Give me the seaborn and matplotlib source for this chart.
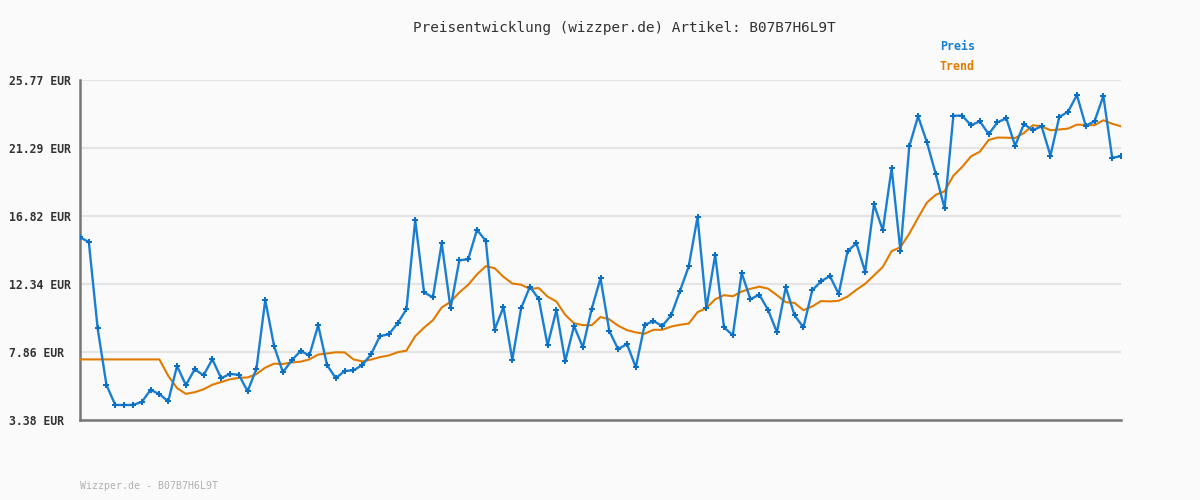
"""Preisentwicklung chart for article B07B7H6L9T (price and 10-point trend)."""

import matplotlib
matplotlib.use("Agg")
import matplotlib.pyplot as plt
import pandas as pd
import seaborn as sns

TITLE = "Preisentwicklung (wizzper.de) Artikel: B07B7H6L9T"
FOOTER = "Wizzper.de - B07B7H6L9T"

y_ticks = [3.38, 7.86, 12.34, 16.82, 21.29, 25.77]
y_tick_labels = ["3.38 EUR", "7.86 EUR", "12.34 EUR", "16.82 EUR", "21.29 EUR", "25.77 EUR"]

preis = [
    15.41, 15.10, 9.42, 5.68, 4.37, 4.37, 4.37, 4.57, 5.36, 5.09,
    4.61, 6.94, 5.68, 6.72, 6.32, 7.38, 6.13, 6.41, 6.36, 5.27,
    6.76, 11.28, 8.25, 6.52, 7.31, 7.92, 7.64, 9.62, 7.00, 6.13,
    6.61, 6.65, 7.00, 7.71, 8.91, 9.02, 9.75, 10.67, 16.53, 11.78,
    11.46, 15.02, 10.74, 13.90, 13.96, 15.91, 15.17, 9.33, 10.82, 7.35,
    10.74, 12.16, 11.35, 8.30, 10.62, 7.25, 9.57, 8.17, 10.69, 12.71,
    9.24, 8.04, 8.39, 6.85, 9.64, 9.90, 9.57, 10.27, 11.86, 13.50,
    16.75, 10.74, 14.25, 9.48, 8.96, 13.06, 11.33, 11.64, 10.62, 9.16,
    12.12, 10.27, 9.48, 11.92, 12.51, 12.86, 11.68, 14.49, 15.02, 13.15,
    17.58, 15.87, 19.96, 14.49, 21.40, 23.38, 21.67, 19.58, 17.32, 23.42,
    23.42, 22.79, 23.05, 22.21, 22.98, 23.25, 21.44, 22.87, 22.46, 22.72,
    20.79, 23.33, 23.68, 24.78, 22.76, 23.05, 24.72, 20.65, 20.75,
]

trend = [
    7.37, 7.37, 7.37, 7.37, 7.37, 7.37, 7.37, 7.37, 7.37, 7.37,
    6.29, 5.48, 5.10, 5.21, 5.40, 5.70, 5.88, 6.06, 6.16, 6.18,
    6.40, 6.83, 7.09, 7.07, 7.17, 7.22, 7.37, 7.69, 7.76, 7.84,
    7.83, 7.37, 7.24, 7.36, 7.52, 7.63, 7.84, 7.95, 8.90, 9.46,
    9.95, 10.79, 11.16, 11.78, 12.28, 12.97, 13.51, 13.38, 12.81, 12.37,
    12.29, 12.01, 12.07, 11.51, 11.18, 10.31, 9.75, 9.63, 9.62, 10.16,
    10.01, 9.59, 9.30, 9.15, 9.06, 9.32, 9.32, 9.53, 9.65, 9.73,
    10.48, 10.75, 11.33, 11.60, 11.53, 11.84, 12.02, 12.16, 12.03, 11.60,
    11.14, 11.09, 10.61, 10.86, 11.21, 11.19, 11.23, 11.51, 11.95, 12.35,
    12.90, 13.46, 14.50, 14.76, 15.65, 16.70, 17.70, 18.21, 18.44, 19.47,
    20.05, 20.74, 21.05, 21.82, 21.98, 21.97, 21.95, 22.28, 22.79, 22.72,
    22.46, 22.51, 22.57, 22.83, 22.81, 22.79, 23.12, 22.89, 22.72,
]

BLUE = "#1a7fd0"
ORANGE = "#e07b00"
BG = "#fafafa"

sns.set_style("white")
plt.rcParams["font.family"] = ["DejaVu Sans Mono", "DejaVu Sans"]

data = pd.DataFrame({"punkt": range(len(preis)), "Preis": preis, "Trend": trend})

fig = plt.figure(figsize=(12, 5), dpi=100, facecolor=BG)
ax = fig.add_axes([80 / 1200, 80 / 500, 1041 / 1200, 340 / 500])
ax.set_facecolor(BG)

sns.lineplot(data=data, x="punkt", y="Trend", color=ORANGE, linewidth=1.5, ax=ax, zorder=3)
sns.lineplot(
    data=data, x="punkt", y="Preis", color=BLUE, linewidth=1.7,
    marker="P", markersize=4, markeredgewidth=0, markerfacecolor="#0d6fc2",
    ax=ax, zorder=4,
)

ax.set_xlim(0, len(preis) - 1)
ax.set_ylim(y_ticks[0], y_ticks[-1])
ax.set_yticks(y_ticks)
ax.set_yticklabels(y_tick_labels)
ax.set_xticks([])
ax.set_xlabel("")
ax.set_ylabel("")
ax.yaxis.grid(True, color="#e4e4e4", linewidth=1.6)
ax.set_axisbelow(True)
ax.tick_params(axis="y", length=0, pad=51, labelsize=8.3, labelcolor="#333333")
for label in ax.get_yticklabels():
    label.set_horizontalalignment("left")
    label.set_fontweight("bold")

for side in ("top", "right"):
    ax.spines[side].set_visible(False)
for side in ("left", "bottom"):
    ax.spines[side].set_color("#777777")
    ax.spines[side].set_linewidth(1.8)

fig.text(624 / 1200, 1 - 28 / 500, TITLE, ha="center", va="center", fontsize=10.4, color="#333333")
fig.text(940 / 1200, 1 - 47 / 500, "Preis", ha="left", va="center", fontsize=8.4, fontweight="bold", color=BLUE)
fig.text(940 / 1200, 1 - 67 / 500, "Trend", ha="left", va="center", fontsize=8.4, fontweight="bold", color=ORANGE)
fig.text(80 / 1200, 1 - 486 / 500, FOOTER, ha="left", va="center", fontsize=7.1, color="#b0b0b0")

fig.savefig("out.png", dpi=100, facecolor=BG)
